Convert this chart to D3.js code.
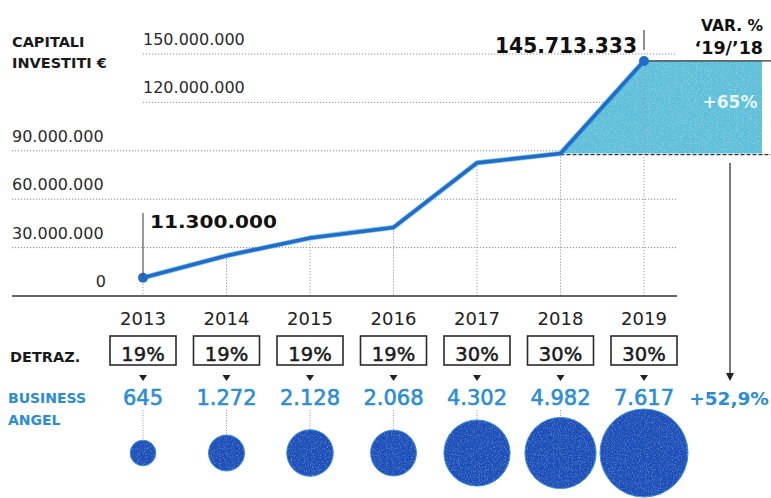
<!DOCTYPE html>
<html>
<head>
<meta charset="utf-8">
<script src="https://cdn.jsdelivr.net/npm/d3@7"></script>
<style>
  html, body { margin: 0; padding: 0; background: #fff; }
  svg { display: block; }
  text { font-family: "DejaVu Sans", "Open Sans", sans-serif; }
</style>
</head>
<body>
<svg id="chart" width="771" height="498"></svg>
<script>
// Capitali investiti dai business angel, 2013-2019
const years = ["2013", "2014", "2015", "2016", "2017", "2018", "2019"];
const capitals = [11300000, 25000000, 36000000, 42500000, 82500000, 88310000, 145713333];
const deductions = ["19%", "19%", "19%", "19%", "30%", "30%", "30%"];
const angels = [645, 1272, 2128, 2068, 4302, 4982, 7617];
const angelLabels = ["645", "1.272", "2.128", "2.068", "4.302", "4.982", "7.617"];
const yTicks = [0, 30000000, 60000000, 90000000, 120000000, 150000000];
const yTickLabels = ["0", "30.000.000", "60.000.000", "90.000.000", "120.000.000", "150.000.000"];
const firstLabel = "11.300.000";
const lastLabel = "145.713.333";
const capitalVar = "+65%";
const angelVar = "+52,9%";

const svg = d3.select("#chart");

const lineBlue = "#1f6cc9";
const textBlue = "#2a8dd5";
const circleBlue = "#1c4fb8";
const shadeBlue = "#5dc0da";

// fine print grain for the filled shapes
const defs = svg.append("defs");
function grainFilter(id, rgb, alpha) {
  const f = defs.append("filter").attr("id", id)
    .attr("x", "-5%").attr("y", "-5%").attr("width", "110%").attr("height", "110%");
  f.append("feTurbulence").attr("type", "fractalNoise").attr("baseFrequency", 0.85)
    .attr("numOctaves", 2).attr("seed", 4).attr("result", "noise");
  f.append("feColorMatrix").attr("in", "noise").attr("type", "matrix")
    .attr("values", `0 0 0 0 ${rgb[0]}  0 0 0 0 ${rgb[1]}  0 0 0 0 ${rgb[2]}  ${alpha} 0 0 0 ${-alpha * 0.5}`)
    .attr("result", "specks");
  f.append("feComposite").attr("in", "specks").attr("in2", "SourceGraphic")
    .attr("operator", "in").attr("result", "clipped");
  const m = f.append("feMerge");
  m.append("feMergeNode").attr("in", "SourceGraphic");
  m.append("feMergeNode").attr("in", "clipped");
}
grainFilter("grainDark", [0.25, 0.45, 0.85], 1.2);
grainFilter("grainLight", [0.5, 0.72, 0.82], 1.6);

const x = d3.scalePoint().domain(years).range([143, 644]);
const y = d3.scaleLinear().domain([0, 150000000]).range([296, 54]);
const r = d3.scaleSqrt().domain([0, d3.max(angels)]).range([0, 44]);

const data = years.map((yr, i) => ({
  year: yr, value: capitals[i], ded: deductions[i], angels: angels[i], label: angelLabels[i]
}));

// horizontal dotted gridlines
svg.append("g").selectAll("line").data(yTicks.slice(1)).join("line")
  .attr("x1", d => d >= 120000000 ? 143 : 12)
  .attr("x2", 677)
  .attr("y1", d => y(d)).attr("y2", d => y(d))
  .attr("stroke", "#8a8a8a").attr("stroke-width", 1)
  .attr("stroke-dasharray", "1.2,1.8");

// tick labels: the two upper ones sit at the plot's left edge, the others at the margin
svg.append("g").selectAll("text").data(yTicks).join("text")
  .attr("x", d => d === 0 ? 106 : (d >= 120000000 ? 143 : 12))
  .attr("y", d => y(d) - 9)
  .attr("text-anchor", d => d === 0 ? "end" : "start")
  .attr("font-size", 16).attr("fill", "#2a2a2a")
  .text((d, i) => yTickLabels[i]);

// axis title
svg.append("text").attr("x", 12).attr("y", 47).attr("font-size", 14.5).attr("font-weight", 700)
  .attr("fill", "#1a1a1a").text("CAPITALI");
svg.append("text").attr("x", 12).attr("y", 68).attr("font-size", 14.5).attr("font-weight", 700)
  .attr("fill", "#1a1a1a").text("INVESTITI €");

// shaded variation box between 2018 and 2019
const v18 = capitals[5], v19 = capitals[6];
const shade = d3.area().x(d => d[0]).y0(y(v18)).y1(d => d[1]);
svg.append("path")
  .attr("d", shade([[x("2018"), y(v18)], [x("2019"), y(v19)], [762, y(v19)]]))
  .attr("fill", shadeBlue).attr("filter", "url(#grainLight)");

// level lines of the box
svg.append("line").attr("x1", x("2019")).attr("x2", 771)
  .attr("y1", y(v19)).attr("y2", y(v19))
  .attr("stroke", "#333").attr("stroke-width", 1.3);
svg.append("line").attr("x1", x("2018")).attr("x2", 771)
  .attr("y1", y(v18) + 1).attr("y2", y(v18) + 1)
  .attr("stroke", "#333").attr("stroke-width", 1.3).attr("stroke-dasharray", "4,2");

svg.append("text").attr("x", 730).attr("y", y(117000000) + 1)
  .attr("text-anchor", "middle").attr("font-size", 17).attr("font-weight", 700)
  .attr("fill", "#fff").attr("fill-opacity", 0.85).text(capitalVar);

// dotted drop lines from each point to the baseline
svg.append("g").selectAll("line").data(data).join("line")
  .attr("x1", d => x(d.year)).attr("x2", d => x(d.year))
  .attr("y1", d => y(d.value)).attr("y2", y(0))
  .attr("stroke", "#9a9a9a").attr("stroke-width", 1)
  .attr("stroke-dasharray", "1.2,1.8");

// baseline
svg.append("line").attr("x1", 12).attr("x2", 677).attr("y1", y(0)).attr("y2", y(0))
  .attr("stroke", "#333").attr("stroke-width", 1.6);

// the capital line
const line = d3.line().x(d => x(d.year)).y(d => y(d.value));
svg.append("path").datum(data).attr("d", line)
  .attr("fill", "none").attr("stroke", "#3aa0e0").attr("stroke-width", 5.2)
  .attr("stroke-linejoin", "round").attr("stroke-opacity", 0.6);
svg.append("path").datum(data).attr("d", line)
  .attr("fill", "none").attr("stroke", lineBlue).attr("stroke-width", 3.6)
  .attr("stroke-linejoin", "round");
svg.append("g").selectAll("circle").data([data[0], data[6]]).join("circle")
  .attr("cx", d => x(d.year)).attr("cy", d => y(d.value)).attr("r", 5)
  .attr("fill", lineBlue);

// first and last value callouts
svg.append("line").attr("x1", x("2013")).attr("x2", x("2013"))
  .attr("y1", 213).attr("y2", y(capitals[0]))
  .attr("stroke", "#555").attr("stroke-width", 1.2);
svg.append("text").attr("x", 150).attr("y", 228)
  .attr("font-size", 18.5).attr("font-weight", 700).attr("fill", "#111")
  .attr("textLength", 127).attr("lengthAdjust", "spacingAndGlyphs").text(firstLabel);
svg.append("line").attr("x1", x("2019")).attr("x2", x("2019"))
  .attr("y1", 30).attr("y2", 50)
  .attr("stroke", "#444").attr("stroke-width", 1.2);
svg.append("text").attr("x", 637).attr("y", 53).attr("text-anchor", "end")
  .attr("font-size", 21.5).attr("font-weight", 700).attr("fill", "#111")
  .attr("textLength", 142).attr("lengthAdjust", "spacingAndGlyphs").text(lastLabel);

// variation header
svg.append("text").attr("x", 763).attr("y", 31).attr("text-anchor", "end")
  .attr("font-size", 15.5).attr("font-weight", 700).attr("fill", "#111").text("VAR. %");
svg.append("text").attr("x", 763).attr("y", 54).attr("text-anchor", "end")
  .attr("font-size", 17.5).attr("font-weight", 700).attr("fill", "#111").text("\u201819/\u201918");

// arrow from the box to the business angel variation
svg.append("line").attr("x1", 730).attr("x2", 730).attr("y1", 163).attr("y2", 375)
  .attr("stroke", "#333").attr("stroke-width", 1.3);
svg.append("path").attr("d", "M726,373 L734,373 L730,381 Z").attr("fill", "#222");

// year labels
svg.append("g").selectAll("text").data(data).join("text")
  .attr("x", d => x(d.year)).attr("y", 325).attr("text-anchor", "middle")
  .attr("font-size", 18).attr("fill", "#222").text(d => d.year);

// deduction boxes
svg.append("text").attr("x", 10).attr("y", 362).attr("font-size", 14.5)
  .attr("font-weight", 700).attr("fill", "#1a1a1a").text("DETRAZ.");
const cols = svg.append("g").selectAll("g").data(data).join("g")
  .attr("transform", d => `translate(${x(d.year)},0)`);
cols.append("rect").attr("x", -33).attr("y", 336).attr("width", 66).attr("height", 29)
  .attr("fill", "#fff").attr("stroke", "#2a2a2a").attr("stroke-width", 1.6);
cols.append("text").attr("y", 361).attr("text-anchor", "middle")
  .attr("font-size", 19.5).attr("fill", "#1a1a1a").attr("stroke", "#1a1a1a").attr("stroke-width", 0.5)
  .text(d => d.ded);
cols.append("path").attr("d", "M-4,375 L4,375 L0,381 Z").attr("fill", "#222");

// business angel counts
svg.append("text").attr("x", 8).attr("y", 403).attr("font-size", 14)
  .attr("font-weight", 700).attr("fill", textBlue).text("BUSINESS");
svg.append("text").attr("x", 8).attr("y", 425).attr("font-size", 14)
  .attr("font-weight", 700).attr("fill", textBlue).text("ANGEL");
cols.append("text").attr("y", 405).attr("text-anchor", "middle")
  .attr("font-size", 21).attr("fill", textBlue).attr("stroke", textBlue).attr("stroke-width", 0.6)
  .text(d => d.label);
svg.append("text").attr("x", 729).attr("y", 405).attr("text-anchor", "middle")
  .attr("font-size", 18.5).attr("font-weight", 700).attr("fill", textBlue).text(angelVar);

// connectors and bubbles sized by area
const cy = 453;
cols.append("line").attr("x1", 0).attr("x2", 0)
  .attr("y1", 410).attr("y2", d => cy - r(d.angels))
  .attr("stroke", "#999").attr("stroke-width", 1).attr("stroke-dasharray", "1,1.5");
cols.append("circle").attr("cy", cy).attr("r", d => r(d.angels))
  .attr("fill", circleBlue).attr("stroke", "#2f8fd8").attr("stroke-width", 1)
  .attr("filter", "url(#grainDark)");
</script>
</body>
</html>
